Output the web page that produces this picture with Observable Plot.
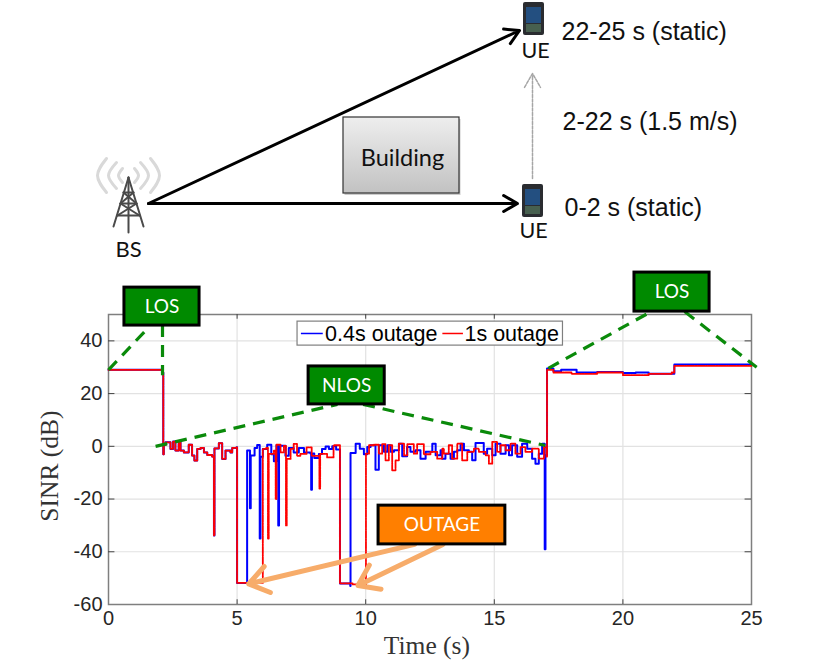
<!DOCTYPE html>
<html><head><meta charset="utf-8">
<script src="https://cdn.jsdelivr.net/npm/d3@7"></script>
<script src="https://cdn.jsdelivr.net/npm/@observablehq/plot@0.6"></script>
<style>html,body{margin:0;padding:0;background:#fff}svg{display:block}</style>
</head><body><div id="top"></div><div id="chart"></div>
<script>
// ---- chart data (seconds, dB) ----
const commonTime=[0,1.95,2.1,2.13,2.15,2.22,2.41,2.51,2.6,2.73,2.8,2.93,3.12,3.25,3.34,3.45,3.58,3.71,3.84,4.03,4.1,4.12,4.29,4.42,4.55,4.74,4.81,4.98,5.0];
const commonSinr=[29,29,28,-3,0.5,1.5,-1,1.8,-1.6,1.5,-1.6,-2.3,0.6,-3.5,-5.4,-1,-0.6,-2.3,-3.3,-3.9,-33.8,-0.8,1.2,-4.8,-1.6,-2.3,-0.6,-0.4,-51.8];

const blueTime=[5.39,5.5,5.53,5.55,5.68,5.78,5.88,5.91,6.0,6.17,6.33,6.43,6.53,6.6,6.63,6.69,6.88,7.01,7.2,7.4,7.6,7.85,7.88,7.91,8.0,8.18,8.3,8.44,8.57,8.7,8.85,9.0,9.4,
 9.41,9.61,9.77,9.93,10.06,10.19,10.38,10.51,10.58,10.71,10.84,10.97,11.1,11.29,11.42,11.61,11.74,11.94,12.13,12.33,12.59,12.72,12.91,
 12.97,13.1,13.3,13.43,13.56,13.69,13.82,14.01,14.14,14.27,14.46,14.59,14.72,14.92,15.05,15.24,15.44,15.57,15.69,15.89,16.08,16.28,16.47,16.6,16.73,16.86,16.93,16.96,16.99,17.05,
 17.3,17.6,18.2,19,20,20.5,21,21.8,22,25];
const blueSinr=[-1.6,-23.5,-3.5,-3.5,-0.6,0.5,-35,-4,-1,0.6,-3,-5.7,0.4,-30,0.2,0.2,-3.6,-0.6,-2.3,-0.6,-2.3,-2.7,-16.5,-2.7,-4.4,-2.9,-1,-0.1,-1,0,-1.2,-52,-53,
 -2.5,1,-0.9,-3,-0.3,0.4,-8.9,0.4,0.4,-2.1,0.4,-2.1,-1.5,1,-3.8,-0.3,-2.1,-1.5,-4.7,-2.1,1,-3.4,-1.5,
 -4.7,-2.8,-4.7,-2.1,-1.5,1,-1.5,-2.1,-5.3,1.3,1.3,-2.8,-0.9,-3.4,1,-2.8,0.4,-3.4,0.4,-4,1,-0.9,-4.7,-6.6,-2.8,1,1,-39,-3.4,29.5,
 28.5,29,28,28.2,27.8,28,27.5,27.5,31,31];

const redTime=[6.0,6.13,6.2,6.23,6.29,6.43,6.5,6.53,6.56,6.69,6.82,6.9,6.93,6.95,7.08,7.2,7.33,7.46,7.7,7.9,8.2,8.23,8.24,8.5,8.75,9.0,9.5,9.8,10,
 10.01,10.13,10.32,10.51,10.64,10.77,10.9,11.03,11.16,11.29,11.49,11.62,11.87,12,12.26,12.52,12.78,12.98,
 13.04,13.23,13.36,13.56,13.75,13.95,14.21,14.4,14.66,14.79,14.92,15.11,15.24,15.44,15.63,15.82,16.02,16.21,16.47,16.73,16.93,17.03,17.05,
 17.3,18,19,20,21,21.9,22,25];
const redSinr=[-1,-0.6,-35,-2.9,-2.9,-1.6,-20,0.6,0.6,-2.3,0.2,-30,-4.8,-4.8,-1,0.9,-3.6,-2.9,-0.4,-3.6,-16,-2.9,-2.9,-4.2,0.4,-52,-52.4,-53,-53,
 -2.8,0.4,0.6,-2.8,0.8,-5.3,0.4,-9.1,-5.3,1,-3.4,0.8,-2.8,0.8,-3,-2.1,-4.7,-0.9,
 -2.8,0.4,-4.7,1,-5.3,-2.1,-0.9,-2.1,-3.4,-6.6,1.7,-2.1,0.4,-1.5,1,-2.8,-0.3,-2.1,-0.9,-4.7,-0.3,-4,29,
 28,27.5,28,27,27.5,28,30.5,30.5];

const xTicks=[0,5,10,15,20,25];
const yTicks=[-60,-40,-20,0,20,40];
const gridX=[5,10,15,20];
const gridY=[-40,-20,0,20,40];
const fmt=d=>String(d);
const seriesOf=(t,v)=>t.map((x,i)=>({t:x,v:v[i]}));
const blue=seriesOf(commonTime.concat(blueTime),commonSinr.concat(blueSinr));
const red=seriesOf(commonTime.concat(redTime),commonSinr.concat(redSinr));

// ---- annotations on the chart, in chart units ----
const greenBoxes=[
 {label:"LOS",x1:0.62,x2:3.54,y1:45.8,y2:60.2},
 {label:"NLOS",x1:7.78,x2:10.74,y1:15.9,y2:30.3},
 {label:"LOS",x1:20.45,x2:23.37,y1:51.1,y2:65.9}];
const outageBox=[{label:"OUTAGE",x1:10.5,x2:15.43,y1:-37.2,y2:-22.5}];
const greenDashes=[
 {x1:0,y1:29,x2:1.45,y2:44},{x1:2.1,y1:46,x2:2.1,y2:27},
 {x1:1.83,y1:0,x2:8.9,y2:15.9},{x1:9.9,y1:15.9,x2:16.98,y2:0.3},
 {x1:17.1,y1:29.6,x2:21.1,y2:51.1},{x1:22.4,y1:51.1,x2:25.2,y2:30}];
const outageArrows=[{x1:11.9,y1:-37.2,x2:5.45,y2:-52.2},{x1:13,y1:-37.2,x2:9.7,y2:-52.8}];
const legendBox=[{x1:7.35,x2:17.67,y1:38.2,y2:47.3}];
const legendKeys=[
 {x1:7.5,x2:8.35,y:42.8,stroke:"#0000ff",dash:null},
 {x1:13,x2:13.8,y:42.8,stroke:"#ff0000",dash:"5,1.5,1.5,1.5"}];
const legendText=[{x:8.42,y:42.6,t:"0.4s outage"},{x:13.84,y:42.6,t:"1s outage"}];

// ---- schematic above the chart, in schematic units ----
const building=[{x1:343,x2:459,y1:117,y2:193}];
const paths=[{x1:148,y1:203,x2:519,y2:30},{x1:148,y1:203,x2:517,y2:203}];
const move=[{x1:532,y1:178,x2:532,y2:73}];
const phones=[{x1:523,x2:544,y1:2,y2:35},{x1:522,x2:543,y1:184,y2:217}];
const screens=[{x1:526,x2:541,y1:7,y2:23},{x1:525,x2:540,y1:189,y2:205}];
const keys=[{x1:526,x2:541,y1:24,y2:32},{x1:525,x2:540,y1:206,y2:214}];
const labelsCal=[{x:402,y:158,t:"Building",s:23.5},{x:128,y:249,t:"BS",s:22},{x:535,y:51,t:"UE",s:21.5},{x:533,y:231,t:"UE",s:21.5}];
const labelsSans=[{x:561,y:31,t:"22-25 s (static)"},{x:562,y:121,t:"2-22 s (1.5 m/s)"},{x:564,y:207,t:"0-2 s (static)"}];
const arcs=[
 [[106,158],[97,175],[106,192]],[[116,162],[108,175],[116,188]],[[122,168],[118,175],[122,182]],
 [[150,158],[159,175],[150,192]],[[140,162],[148,175],[140,188]],[[134,168],[138,175],[134,182]]];
const towerLegs=[[[128,177],[113,226]],[[128,177],[143,226]],[[128,177],[128,232]],
 [[123,192],[133,192]],[[120,203],[136,203]],[[117,215],[139,215]],
 [[123,192],[136,203]],[[133,192],[120,203]],[[120,203],[139,215]],[[136,203],[117,215]]];

const defs=()=>{const s=d3.create("svg:defs");
 const g=s.append("linearGradient").attr("id","bld").attr("x1",0).attr("x2",0).attr("y1",0).attr("y2",1);
 g.append("stop").attr("offset","0%").attr("stop-color","#eeeeee");
 g.append("stop").attr("offset","100%").attr("stop-color","#c2c2c2");
 return s.node();};

const unit=(w,h)=>({width:w,height:h,margin:0,
 x:{domain:[0,w],range:[0,w],axis:null},y:{domain:[0,h],range:[0,h],axis:null}});

document.getElementById("top").append(Plot.plot({...unit(830,270),
 marks:[
  defs,
  ...arcs.map(a=>Plot.line(a,{x:"0",y:"1",stroke:"#d9d9d9",strokeWidth:3,curve:"natural"})),
  ...towerLegs.map(a=>Plot.line(a,{x:"0",y:"1",stroke:"#4a4a4a",strokeWidth:2})),
  Plot.arrow(paths,{x1:"x1",y1:"y1",x2:"x2",y2:"y2",stroke:"#000",strokeWidth:3,headLength:8}),
  Plot.arrow(move,{x1:"x1",y1:"y1",x2:"x2",y2:"y2",stroke:"#a6a6a6",strokeWidth:1.5,strokeDasharray:"3,1.5",headLength:16}),
  Plot.rect(building,{x1:d=>d.x1+1.5,x2:d=>d.x2+1.5,y1:d=>d.y1+2,y2:d=>d.y2+2,fill:"#999",fillOpacity:0.5}),
  Plot.rect(building,{x1:"x1",x2:"x2",y1:"y1",y2:"y2",fill:"url(#bld)",stroke:"#333",strokeWidth:1.2}),
  Plot.rect(phones,{x1:"x1",x2:"x2",y1:"y1",y2:"y2",fill:"#2a2c30",rx:2}),
  Plot.rect(screens,{x1:"x1",x2:"x2",y1:"y1",y2:"y2",fill:"#234f80"}),
  Plot.rect(keys,{x1:"x1",x2:"x2",y1:"y1",y2:"y2",fill:"#47604f"}),
  Plot.text(labelsCal,{x:"x",y:"y",text:"t",fontSize:"s",fill:"#111",fontFamily:"Lato"}),
  Plot.text(labelsSans,{x:"x",y:"y",text:"t",fontSize:25,textAnchor:"start",fill:"#111",fontFamily:"Liberation Sans"})
 ]}));

document.getElementById("chart").append(Plot.plot({
 width:830,height:402,marginTop:44,marginBottom:68,marginLeft:108,marginRight:79,
 style:{fontFamily:"Liberation Sans",color:"#262626",overflow:"visible"},
 x:{domain:[0,25],label:null},
 y:{domain:[-60,50],label:null},
 marks:[
  Plot.ruleX(gridX,{stroke:"#e2e2e2",strokeWidth:1.2}),
  Plot.ruleY(gridY,{stroke:"#e2e2e2",strokeWidth:1.2}),
  Plot.frame({stroke:"#7f7f7f",strokeWidth:1.5}),
  Plot.ruleX(gridX,{y1:-60,y2:-58.2,stroke:"#444"}),
  Plot.ruleX(gridX,{y1:50,y2:48.2,stroke:"#444"}),
  Plot.ruleY(gridY,{x1:0,x2:0.25,stroke:"#444"}),
  Plot.ruleY(gridY,{x1:25,x2:24.75,stroke:"#444"}),
  Plot.axisX({ticks:xTicks,tickFormat:fmt,tickSize:0,tickPadding:6,fontSize:20,label:null}),
  Plot.axisY({ticks:yTicks,tickFormat:fmt,tickSize:0,tickPadding:6,fontSize:20,label:null}),
  Plot.text(["Time (s)"],{x:[12.38],y:[-75.8],text:d=>d,fontSize:25.5,fontFamily:"Liberation Serif",fill:"#333"}),
  Plot.text(["SINR (dB)"],{x:[-2.3],y:[-7.5],text:d=>d,rotate:-90,fontSize:25.5,fontFamily:"Liberation Serif",fill:"#333"}),
  Plot.line(blue,{x:"t",y:"v",stroke:"#0000ff",strokeWidth:2,curve:"step-after"}),
  Plot.line(red,{x:"t",y:"v",stroke:"#ff0000",strokeWidth:1.8,strokeDasharray:"7,1,1.5,1",curve:"step-after"}),
  Plot.rect(legendBox,{x1:"x1",x2:"x2",y1:"y1",y2:"y2",fill:"#fff",stroke:"#7f7f7f",strokeWidth:1.2}),
  Plot.ruleY(legendKeys,{x1:"x1",x2:"x2",y:"y",stroke:"stroke",strokeDasharray:"dash",strokeWidth:1.5}),
  Plot.text(legendText,{x:"x",y:"y",text:"t",textAnchor:"start",fontSize:21.5,fill:"#000"}),
  Plot.link(greenDashes,{x1:"x1",y1:"y1",x2:"x2",y2:"y2",stroke:"#0a8a0a",strokeWidth:3.2,strokeDasharray:"12,8"}),
  Plot.arrow(outageArrows,{x1:"x1",y1:"y1",x2:"x2",y2:"y2",stroke:"#f7ac6a",strokeWidth:5,headLength:7,headAngle:70}),
  Plot.rect(greenBoxes,{x1:"x1",x2:"x2",y1:"y1",y2:"y2",fill:"#008a00",stroke:"#000",strokeWidth:3}),
  Plot.text(greenBoxes,{x:d=>(d.x1+d.x2)/2,y:d=>(d.y1+d.y2)/2,text:"label",fill:"#fff",fontSize:19,fontFamily:"Lato"}),
  Plot.rect(outageBox,{x1:"x1",x2:"x2",y1:"y1",y2:"y2",fill:"#ff7f00",stroke:"#000",strokeWidth:3}),
  Plot.text(outageBox,{x:d=>(d.x1+d.x2)/2,y:d=>(d.y1+d.y2)/2,text:"label",fill:"#fff",fontSize:19,fontFamily:"Lato"})
 ]}));
</script></body></html>
